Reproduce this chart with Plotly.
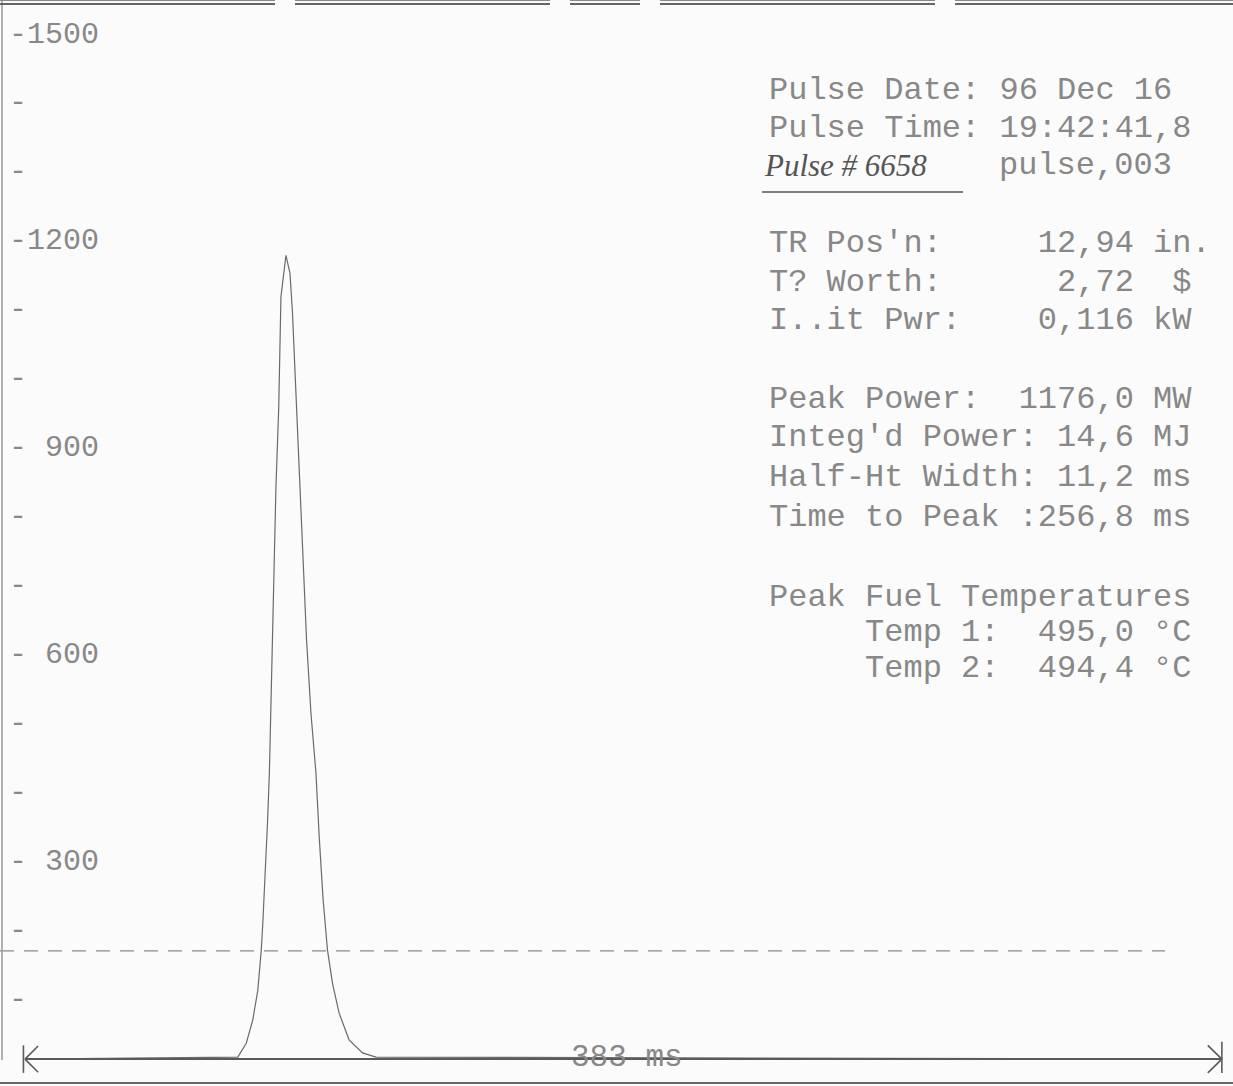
import plotly.graph_objects as go

# ---- data ----
time_ms = [0, 68.1, 70.8, 72.9, 74.5, 75.6, 76.1, 76.9, 77.6, 78.2, 78.7, 79.3, 79.8,
           80.3, 81.2, 81.9, 83.5, 84.8, 85.6, 86.4, 87.5, 88.3, 89.4, 90.1, 91.5,
           93.1, 94.2, 95.4, 96.8, 98.4, 100.5, 103.7, 108.0, 112.3, 383]
power_mw = [10, 13, 33, 67, 110, 168, 207, 280, 353, 425, 521, 618, 729,
            840, 956, 1116, 1176, 1150, 1092, 1005, 907, 795, 689, 618, 512,
            425, 328, 241, 168, 120, 77, 38, 19, 13, 10]

tick_vals = [1500, 1400, 1300, 1200, 1100, 1000, 900, 800, 700, 600, 500, 400, 300, 200, 100]
tick_text = ["-1500", "-", "-", "-1200", "-", "-", "- 900", "-", "-", "- 600", "-", "-",
             "- 300", "-", "-"]

span_ms = 383
span_label = "383 ms"
baseline_mw = 10
threshold_mw = 167
threshold_end_ms = 364.8

info_lines = [
    "Pulse Date: 96 Dec 16",
    "Pulse Time: 19:42:41,8",
    "TR Pos'n:     12,94 in.",
    "T? Worth:      2,72  $",
    "I..it Pwr:    0,116 kW",
    "Peak Power:  1176,0 MW",
    "Integ'd Power: 14,6 MJ",
    "Half-Ht Width: 11,2 ms",
    "Time to Peak :256,8 ms",
    "Peak Fuel Temperatures",
    "     Temp 1:  495,0 °C",
    "     Temp 2:  494,4 °C",
]
info_y_px = [90, 128, 243, 283, 320, 400, 437, 477, 517, 597, 632, 668]
pulse_label = "Pulse # 6658"
file_label = "pulse,003"

# ---- figure geometry ----
W, H = 1233, 1086
PX_PER_MS = 1 / 0.32        # pixel per ms
X0_PX = 25                  # pixel of t = 0
Y0_PX = 1066                # pixel of 0 MW
PX_PER_MW = 1 / 1.4507

x_range = [(0 - X0_PX) / PX_PER_MS, (W - X0_PX) / PX_PER_MS]
y_range = [(Y0_PX - H) / PX_PER_MW, (Y0_PX - 0) / PX_PER_MW]

INK = "#5a5a5a"
TXT = "#888888"
MONO = "Liberation Mono"


def px(xp):
    return xp / W


def py(yp):
    return 1 - yp / H


fig = go.Figure()
fig.add_trace(go.Scatter(x=time_ms, y=power_mw, mode="lines",
                         line=dict(color="#6a6a6a", width=1.2), hoverinfo="skip",
                         showlegend=False))

shapes = []
# x axis arrow
shapes.append(dict(type="line", xref="x", yref="y", x0=0, x1=span_ms, y0=baseline_mw, y1=baseline_mw,
                   line=dict(color=INK, width=2)))
shapes.append(dict(type="line", xref="x", yref="y", x0=-0.5, x1=-0.5, y0=-10, y1=30,
                   line=dict(color=INK, width=1.6)))
shapes.append(dict(type="line", xref="x", yref="y", x0=0, x1=4.2, y0=baseline_mw, y1=29,
                   line=dict(color=INK, width=1.6)))
shapes.append(dict(type="line", xref="x", yref="y", x0=0, x1=4.2, y0=baseline_mw, y1=-9,
                   line=dict(color=INK, width=1.6)))
shapes.append(dict(type="line", xref="x", yref="y", x0=span_ms, x1=span_ms, y0=-10, y1=35,
                   line=dict(color=INK, width=1.6)))
shapes.append(dict(type="line", xref="x", yref="y", x0=span_ms, x1=span_ms - 4.5, y0=baseline_mw, y1=30,
                   line=dict(color=INK, width=1.6)))
shapes.append(dict(type="line", xref="x", yref="y", x0=span_ms, x1=span_ms - 4.5, y0=baseline_mw, y1=-10,
                   line=dict(color=INK, width=1.6)))
# dashed reference line
shapes.append(dict(type="line", xref="x", yref="y", x0=x_range[0], x1=threshold_end_ms,
                   y0=threshold_mw, y1=threshold_mw,
                   line=dict(color="#8a8a8a", width=1.2, dash="14px,10px")))
# frame bits of the scanned sheet
shapes.append(dict(type="line", xref="paper", yref="paper", x0=0, x1=1, y0=py(1083), y1=py(1083),
                   line=dict(color="#666666", width=2)))
shapes.append(dict(type="line", xref="paper", yref="paper", x0=px(2), x1=px(2), y0=py(1060), y1=py(0),
                   line=dict(color="#999999", width=1.5)))
for a, b in [(0, 275), (295, 550), (570, 640), (660, 935), (955, 1233)]:
    shapes.append(dict(type="line", xref="paper", yref="paper", x0=px(a), x1=px(b), y0=py(4), y1=py(4),
                       line=dict(color="#666666", width=2)))
    shapes.append(dict(type="line", xref="paper", yref="paper", x0=px(a), x1=px(b), y0=py(0.5), y1=py(0.5),
                       line=dict(color="#888888", width=1)))
# underline of handwritten pulse number
shapes.append(dict(type="line", xref="paper", yref="paper", x0=px(762), x1=px(963), y0=py(192), y1=py(192),
                   line=dict(color="#555555", width=1.6)))

annotations = []
for line, yp in zip(info_lines, info_y_px):
    annotations.append(dict(text=line.replace(" ", "&nbsp;"), xref="paper", yref="paper",
                            x=px(767), y=py(yp), xanchor="left", yanchor="middle", showarrow=False,
                            font=dict(family=MONO, size=32, color=TXT)))
annotations.append(dict(text=pulse_label, xref="paper", yref="paper", x=px(762), y=py(166),
                        xanchor="left", yanchor="middle", showarrow=False,
                        font=dict(family="Liberation Serif", size=31, color="#555555", style="italic")))
annotations.append(dict(text=file_label, xref="paper", yref="paper", x=px(997), y=py(165),
                        xanchor="left", yanchor="middle", showarrow=False,
                        font=dict(family=MONO, size=32, color=TXT)))
annotations.append(dict(text=span_label.replace(" ", "&nbsp;"), xref="x", yref="y",
                        x=span_ms / 2 + 1, y=baseline_mw + 2,
                        xanchor="center", yanchor="middle", showarrow=False,
                        font=dict(family=MONO, size=31, color=TXT)))

fig.update_layout(
    width=W, height=H,
    margin=dict(l=0, r=0, t=0, b=0),
    paper_bgcolor="#fbfbfb", plot_bgcolor="#fbfbfb",
    showlegend=False,
    xaxis=dict(range=x_range, showgrid=False, zeroline=False, showline=False,
               showticklabels=False, ticks=""),
    yaxis=dict(range=y_range, showgrid=False, zeroline=False, showline=False,
               tickmode="array", tickvals=tick_vals, ticktext=tick_text,
               ticks="", ticklabelposition="inside", ticklabelstandoff=6,
               tickfont=dict(family=MONO, size=30, color=TXT)),
    shapes=shapes,
    annotations=annotations,
)

fig.write_html("out.html", config={"displayModeBar": False},
               post_script="document.body.style.margin='0px';document.body.style.overflow='hidden';")
